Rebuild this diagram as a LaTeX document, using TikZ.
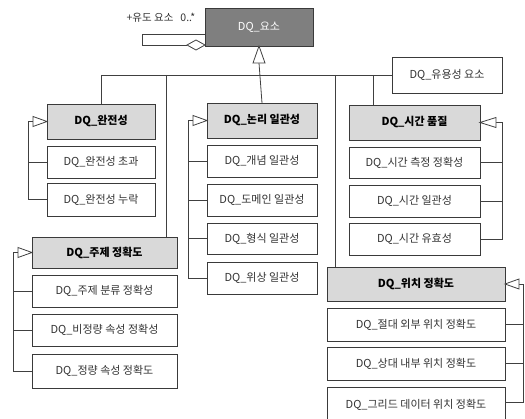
\documentclass[tikz,border=0pt]{standalone}
\usepackage{fontspec}
\setmainfont{Noto Sans CJK KR}
\definecolor{bord}{HTML}{3A3A3A}
\definecolor{hdr}{HTML}{D9D9D9}
\definecolor{topf}{HTML}{7F7F7F}
\definecolor{linec}{HTML}{404040}
\definecolor{txt}{HTML}{333333}
\tikzset{
  box/.style={draw=bord, line width=0.8pt, fill=white, inner sep=0pt, outer sep=0pt, text=txt, font=\fontsize{11}{13}\selectfont},
  hbox/.style={box, fill=hdr, text=black, font=\fontsize{11}{13}\selectfont\bfseries},
  tbox/.style={box, fill=topf, text=white},
  conn/.style={draw=linec, line width=0.8pt},
  tri/.style={draw=linec, line width=0.8pt, fill=white},
  lbl/.style={inner sep=0pt, text=txt, font=\fontsize{10.5}{12}\selectfont}
}
\newcommand\bx[7]{\node[#2, minimum width={(#5-#3)*1pt}, minimum height={(#6-#4)*1pt}] (#1) at ({(#3+#5)/2},{-(#4+#6)/2}) {#7};}
\begin{document}
\begin{tikzpicture}[x=1pt,y=1pt]
\useasboundingbox (0,0) rectangle (525,-419);
\clip (0,0) rectangle (525,-419);
% boxes
\bx{top}{tbox}{205}{8}{313}{46}{DQ\_요소}
\bx{use}{box}{392}{57}{502}{93}{DQ\_유용성 요소}
\bx{c}{hbox}{47}{104}{155}{139}{DQ\_완전성}
\bx{c1}{box}{47}{146}{155}{178}{DQ\_완전성 초과}
\bx{c2}{box}{47}{183}{155}{216}{DQ\_완전성 누락}
\bx{l}{hbox}{207}{103}{317}{138}{DQ\_논리 일관성}
\bx{l1}{box}{207}{145}{317}{177}{DQ\_개념 일관성}
\bx{l2}{box}{207}{184}{317}{216}{DQ\_도메인 일관성}
\bx{l3}{box}{207}{223}{317}{254}{DQ\_형식 일관성}
\bx{l4}{box}{207}{262}{317}{294}{DQ\_위상 일관성}
\bx{t}{hbox}{349}{105}{480}{140}{DQ\_시간 품질}
\bx{t1}{box}{349}{147}{480}{178}{DQ\_시간 측정 정확성}
\bx{t2}{box}{349}{185}{480}{217}{DQ\_시간 일관성}
\bx{t3}{box}{349}{223}{480}{255}{DQ\_시간 유효성}
\bx{s}{hbox}{32}{237}{177}{268}{DQ\_주제 정확도}
\bx{s1}{box}{32}{275}{177}{307}{DQ\_주제 분류 정확성}
\bx{s2}{box}{32}{314}{177}{346}{DQ\_비정량 속성 정확성}
\bx{s3}{box}{32}{354}{177}{388}{DQ\_정량 속성 정확도}
\bx{p}{hbox}{327}{267}{505}{301}{DQ\_위치 정확도}
\bx{p1}{box}{327}{308}{505}{341}{DQ\_절대 외부 위치 정확도}
\bx{p2}{box}{327}{347}{505}{380}{DQ\_상대 내부 위치 정확도}
\node[box, minimum width=178pt, minimum height=37pt] (p3) at (416,-405.5) {\raisebox{3pt}{DQ\_그리드 데이터 위치 정확도}};
% self aggregation
\coordinate (ay) at (0,-34);
\coordinate (dia) at (196,-45);
\draw[conn] (top.west |- ay) -- (142,-34) -- (142,-45) -- ([xshift=-9pt]dia);
\draw[tri] ([xshift=9pt]dia) -- ([yshift=5pt]dia) -- ([xshift=-9pt]dia) -- ([yshift=-5pt]dia) -- cycle;
\node[lbl] (agl) at (161,-18) {+유도 요소\hspace{7pt}0..*};
% main generalization
\draw[conn] ([yshift=-17pt]top.south) -- (l.north);
\draw[tri] (top.south) -- ++(6,-17) -- ++(-12,0) -- cycle;
% bus
\draw[conn] (c.north |- use.west) -- (use.west);
\draw[conn] (c.north |- use.west) -- (c.north);
\coordinate (d1) at (166,-75);
\coordinate (d2) at (335,-75);
\coordinate (d3) at (373,-75);
\draw[conn] (d1) -- (d1 |- s.north);
\draw[conn] (d2) -- (d2 |- p.north);
\draw[conn] (d3) -- (d3 |- t.north);
% left-side groups
\draw[conn] (c2.west) -- ++(-19,0) |- ([xshift=-14pt]c.west);
\draw[conn] (c1.west) -- ++(-19,0);
\draw[tri] (c.west) -- ++(-14,5) -- ++(0,-10) -- cycle;
\draw[conn] (l4.west) -- ++(-19,0) |- ([xshift=-14pt]l.west);
\draw[conn] (l1.west) -- ++(-19,0);
\draw[conn] (l2.west) -- ++(-19,0);
\draw[conn] (l3.west) -- ++(-19,0);
\draw[tri] (l.west) -- ++(-14,5) -- ++(0,-10) -- cycle;
\draw[conn] (s3.west) -- ++(-19,0) |- ([xshift=-14pt]s.west);
\draw[conn] (s1.west) -- ++(-19,0);
\draw[conn] (s2.west) -- ++(-19,0);
\draw[tri] (s.west) -- ++(-14,5) -- ++(0,-10) -- cycle;
% right-side groups
\draw[conn] (t3.east) -- ++(22,0) |- ([xshift=16pt]t.east);
\draw[conn] (t1.east) -- ++(22,0);
\draw[conn] (t2.east) -- ++(22,0);
\draw[tri] (t.east) -- ++(16,5) -- ++(0,-10) -- cycle;
\draw[conn] ([yshift=3pt]p3.east) -- ++(18,0) |- ([xshift=14pt]p.east);
\draw[conn] (p1.east) -- ++(18,0);
\draw[conn] (p2.east) -- ++(18,0);
\draw[tri] (p.east) -- ++(14,5) -- ++(0,-10) -- cycle;
\end{tikzpicture}
\end{document}
